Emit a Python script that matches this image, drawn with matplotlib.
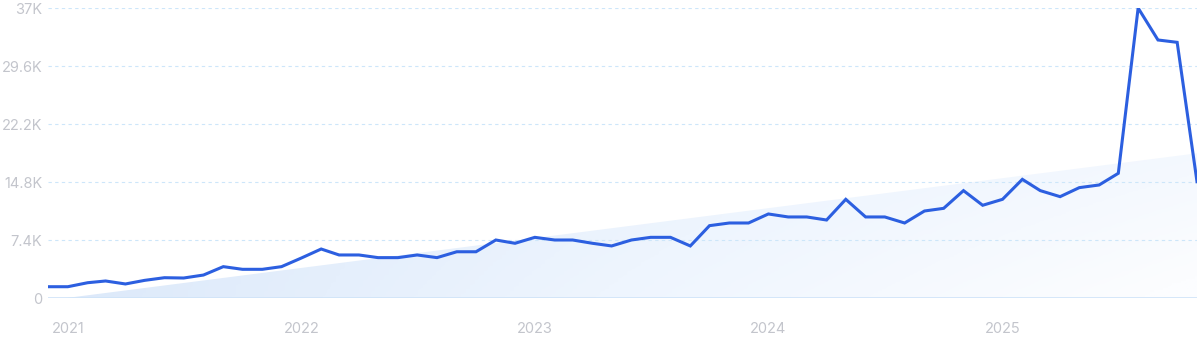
import numpy as np
import pandas as pd
import matplotlib
matplotlib.use('Agg')
import matplotlib.pyplot as plt
import matplotlib.dates as mdates
from matplotlib.colors import LinearSegmentedColormap

# monthly values, Dec 2020 .. Nov 2025
months = pd.date_range('2020-12-01', periods=60, freq='MS')
values = [
    1440,
    1440, 1950, 2170, 1790, 2250, 2590, 2550, 2930, 4000, 3660, 3660, 4000,
    5100, 6250, 5490, 5490, 5150, 5150, 5490, 5150, 5900, 5900, 7400, 6980,
    7740, 7400, 7400, 6980, 6640, 7400, 7740, 7740, 6640, 9230, 9570, 9570,
    10720, 10340, 10340, 9950, 12590, 10340, 10340, 9570, 11100, 11440, 13700, 11830,
    12590, 15140, 13700, 12930, 14080, 14420, 15910, 37000, 32920, 32620, 14840,
]
# trend band end points (first and last month)
trend_ends = [-300, 18460]

y_ticks = [0, 7400, 14800, 22200, 29600, 37000]
y_labels = ['0', '7.4K', '14.8K', '22.2K', '29.6K', '37K']
x_years = ['2021', '2022', '2023', '2024', '2025']

plt.rcParams['font.family'] = ['Inter', 'DejaVu Sans']

fig = plt.figure(figsize=(12, 3.43), dpi=100)
ax = fig.add_axes([48 / 1200, 1 - 298 / 343, 1149 / 1200, 290 / 343])

xnum = mdates.date2num(months)
trend = np.interp(xnum, [xnum[0], xnum[-1]], trend_ends)

# gradient-filled trend area (bluer on the left, fading to white bottom-right)
poly = ax.fill_between(xnum, 0, trend, color='none', lw=0)
cmap = LinearSegmentedColormap.from_list('g', ['#dce9fa', '#eef5fe', '#fcfdff'])
gx = np.linspace(0, 1, 256)
gy = np.linspace(0, 1, 64)
G = np.clip(gx[None, :] * 0.7 + gy[:, None] * gx[None, :] * 0.35, 0, 1)
img = ax.imshow(G, cmap=cmap, aspect='auto', origin='upper',
                extent=[xnum[0], xnum[-1], 0, 18500], zorder=1)
img.set_clip_path(poly.get_paths()[0], transform=ax.transData)

# grid lines
for t in y_ticks[1:]:
    ax.axhline(t, color='#cde6fa', lw=0.8, ls=(0, (3, 3)), zorder=2)
ax.axhline(0, color='#cfe3f8', lw=1.2, zorder=2)

ax.plot(xnum, values, color='#2c5fe0', lw=2.2, solid_joinstyle='miter', zorder=3)

ax.set_xlim(xnum[0], xnum[-1])
ax.set_ylim(0, 37000)
ax.set_yticks(y_ticks)
ax.set_yticklabels(y_labels)
ax.set_xticks([mdates.date2num(pd.Timestamp(y + '-01-01')) for y in x_years])
ax.set_xticklabels(x_years)
ax.tick_params(axis='y', length=0, pad=4, labelsize=10.5, labelcolor='#c3c5cc')
ax.tick_params(axis='x', length=0, pad=17, labelsize=10.5, labelcolor='#c3c5cc')
for s in ax.spines.values():
    s.set_visible(False)

fig.savefig('out.png', dpi=100)
